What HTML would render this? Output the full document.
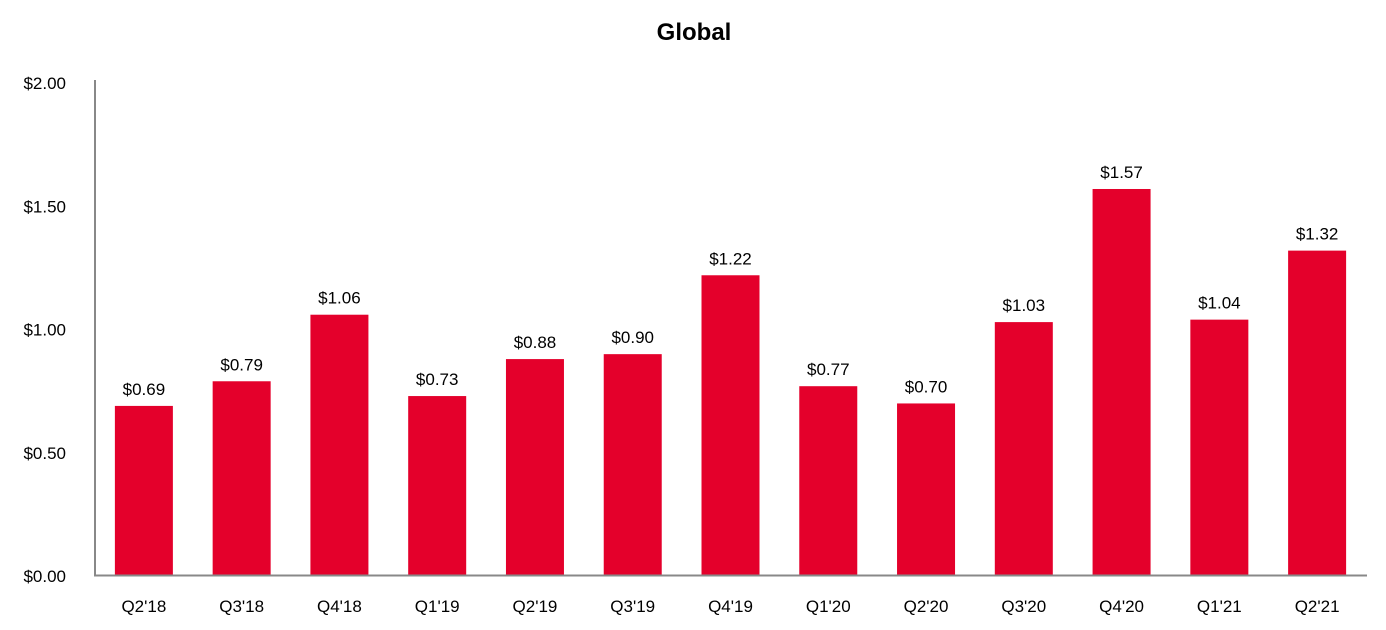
<!DOCTYPE html>
<html><head><meta charset="utf-8"><style>
body{margin:0;background:#fff;}
svg{display:block;font-family:"Liberation Sans",Arial,sans-serif;}
</style></head><body>
<svg id="chart" width="1386" height="630">
<text x="694" y="40" text-anchor="middle" font-size="24" font-weight="bold" fill="#000">Global</text>
<g id="yaxis"></g><g id="bars"></g>
<line x1="95" y1="80" x2="95" y2="576" stroke="#888" stroke-width="2"/>
<line x1="94" y1="575.5" x2="1367" y2="575.5" stroke="#888" stroke-width="2"/>
</svg>
<script>
const categories=["Q2'18","Q3'18","Q4'18","Q1'19","Q2'19","Q3'19","Q4'19","Q1'20","Q2'20","Q3'20","Q4'20","Q1'21","Q2'21"];
const values=[0.69,0.79,1.06,0.73,0.88,0.90,1.22,0.77,0.70,1.03,1.57,1.04,1.32];
const ticks=[0,0.5,1.0,1.5,2.0];
const NS="http://www.w3.org/2000/svg";
const x0=95,x1=1366,yBase=576,yTop=83;
const y=v=>yBase-(v/2)*(yBase-yTop);
const band=(x1-x0)/categories.length;
const xc=i=>x0+band*(i+0.5);
function mk(t,a,p){const e=document.createElementNS(NS,t);for(const k in a)e.setAttribute(k,a[k]);p.appendChild(e);return e;}
const ya=document.getElementById('yaxis'),bg=document.getElementById('bars');
ticks.forEach(t=>{const e=mk('text',{x:66,y:y(t)+6,'text-anchor':'end','font-size':17,fill:'#000'},ya);


e.textContent='$'+t.toFixed(2);});
values.forEach((v,i)=>{
const r=mk('rect',{x:xc(i)-29,y:y(v),width:58,height:yBase-y(v),fill:'#e4002b'},bg);


const l=mk('text',{x:xc(i),y:y(v)-11,'text-anchor':'middle','font-size':17,fill:'#000'},bg);


l.textContent='$'+v.toFixed(2);
const c=mk('text',{x:xc(i),y:612,'text-anchor':'middle','font-size':17,fill:'#000'},bg);


c.textContent=categories[i];
});
</script>
</body></html>
